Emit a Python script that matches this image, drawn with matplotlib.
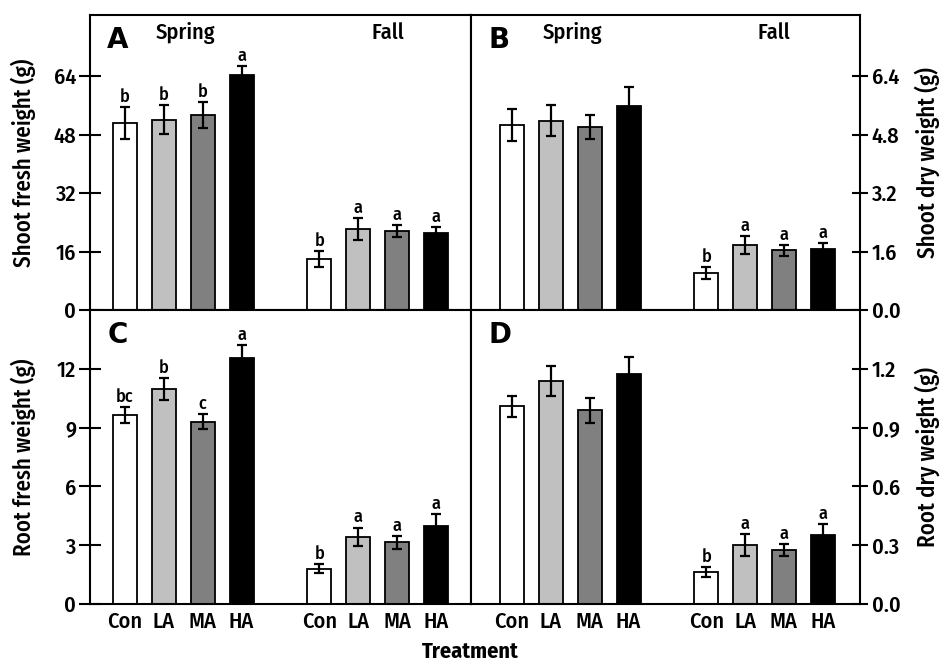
import matplotlib
matplotlib.use('Agg')
import matplotlib.pyplot as plt
from matplotlib import font_manager

names = {f.name for f in font_manager.fontManager.ttflist}
base = 'Fira Sans Condensed' if 'Fira Sans Condensed' in names else 'DejaVu Sans'
plt.rcParams['font.family'] = [base, 'DejaVu Sans']

treatments = ['Con', 'LA', 'MA', 'HA']
seasons = ['Spring', 'Fall']
positions = [0, 1, 2, 3, 5, 6, 7, 8]
bar_colors = ['white', '#c0c0c0', '#808080', 'black'] * 2

shoot_fw_mean = [51.2, 52.1, 53.3, 64.3, 13.9, 22.1, 21.6, 21.2]
shoot_fw_err = [4.3, 4.0, 3.6, 2.5, 2.2, 3.0, 1.6, 1.4]
shoot_fw_letters = ['b', 'b', 'b', 'a', 'b', 'a', 'a', 'a']

shoot_dw_mean = [5.06, 5.18, 5.00, 5.59, 1.02, 1.78, 1.63, 1.68]
shoot_dw_err = [0.44, 0.43, 0.33, 0.51, 0.16, 0.24, 0.14, 0.16]
shoot_dw_letters = ['', '', '', '', 'b', 'a', 'a', 'a']

root_fw_mean = [9.64, 10.99, 9.30, 12.56, 1.80, 3.44, 3.15, 3.99]
root_fw_err = [0.43, 0.56, 0.37, 0.66, 0.24, 0.46, 0.33, 0.61]
root_fw_letters = ['bc', 'b', 'c', 'a', 'b', 'a', 'a', 'a']

root_dw_mean = [1.008, 1.136, 0.988, 1.174, 0.162, 0.30, 0.276, 0.353]
root_dw_err = [0.053, 0.077, 0.063, 0.085, 0.025, 0.056, 0.029, 0.057]
root_dw_letters = ['', '', '', '', 'b', 'a', 'a', 'a']

fig = plt.figure(figsize=(9.4, 6.64), dpi=100)
L, M, R = 90/940, 471/940, 860/940
T, MID, B = 1 - 15/664, 1 - 310/664, 1 - 604/664

axA = fig.add_axes([L, MID, M - L, T - MID])
axB = fig.add_axes([M, MID, R - M, T - MID])
axC = fig.add_axes([L, B, M - L, MID - B])
axD = fig.add_axes([M, B, R - M, MID - B])

W = 500

panels = [
    (axA, 'A', shoot_fw_mean, shoot_fw_err, shoot_fw_letters, (0, 80.7), [0, 16, 32, 48, 64], '{:.0f}', 'Shoot fresh weight (g)', 'left', True),
    (axB, 'B', shoot_dw_mean, shoot_dw_err, shoot_dw_letters, (0, 8.07), [0, 1.6, 3.2, 4.8, 6.4], '{:.1f}', 'Shoot dry weight (g)', 'right', True),
    (axC, 'C', root_fw_mean, root_fw_err, root_fw_letters, (0, 15.0), [0, 3, 6, 9, 12], '{:.0f}', 'Root fresh weight (g)', 'left', False),
    (axD, 'D', root_dw_mean, root_dw_err, root_dw_letters, (0, 1.5), [0, 0.3, 0.6, 0.9, 1.2], '{:.1f}', 'Root dry weight (g)', 'right', False),
]

for ax, lab, mean, err, letters, ylim, yt, fmt, ylabel, side, top in panels:
    ax.bar(positions, mean, width=0.62, color=bar_colors, edgecolor='black', linewidth=1.3, zorder=2)
    ax.errorbar(positions, mean, yerr=err, fmt='none', ecolor='black', elinewidth=1.6,
                capsize=3.5, capthick=1.6, zorder=3)
    for x, m, e, t in zip(positions, mean, err, letters):
        if t:
            ax.annotate(t, (x, m + e), xytext=(0, 1.0), textcoords='offset points',
                        ha='center', va='bottom', fontsize=13, fontweight=W)
    if side == 'left':
        ax.set_xlim(-0.9, 8.9)
    else:
        ax.set_xlim(-1.06, 8.96)
    ax.set_ylim(*ylim)
    ax.set_yticks(yt)
    ax.set_yticklabels([fmt.format(v) for v in yt], fontweight=W)
    for s in ax.spines.values():
        s.set_linewidth(1.5)
    if side == 'left':
        ax.tick_params(axis='y', direction='inout', length=16, width=1.5, labelsize=16, pad=2,
                       left=True, right=False, labelleft=True, labelright=False)
        ax.set_ylabel(ylabel, fontsize=16.5, fontweight=W)
        ax.yaxis.set_label_coords(-0.142, 0.5)
    else:
        ax.tick_params(axis='y', direction='inout', length=11, width=1.5, labelsize=16, pad=3,
                       left=False, right=True, labelleft=False, labelright=True)
        ax.yaxis.set_label_position('right')
        ax.set_ylabel(ylabel, fontsize=16.5, fontweight=W, rotation=90)
        ax.yaxis.set_label_coords(1.14, 0.5)
    if top:
        ax.set_xticks([])
        ax.text(1.55, 0.94, seasons[0], transform=ax.get_xaxis_transform(), ha='center', va='center', fontsize=16, fontweight=W)
        ax.text(6.75, 0.94, seasons[1], transform=ax.get_xaxis_transform(), ha='center', va='center', fontsize=16, fontweight=W)
    else:
        ax.set_xticks(positions)
        ax.set_xticklabels(treatments * 2, fontweight=W)
        ax.tick_params(axis='x', length=0, labelsize=16, pad=5)
    ax.text(0.045, 0.915, lab, transform=ax.transAxes, ha='left', va='center',
            fontsize=20, fontweight='bold', family='DejaVu Sans')

fig.text(0.5, 0.018, 'Treatment', ha='center', va='center', fontsize=16, fontweight='bold')

fig.savefig('out.png', dpi=100)
